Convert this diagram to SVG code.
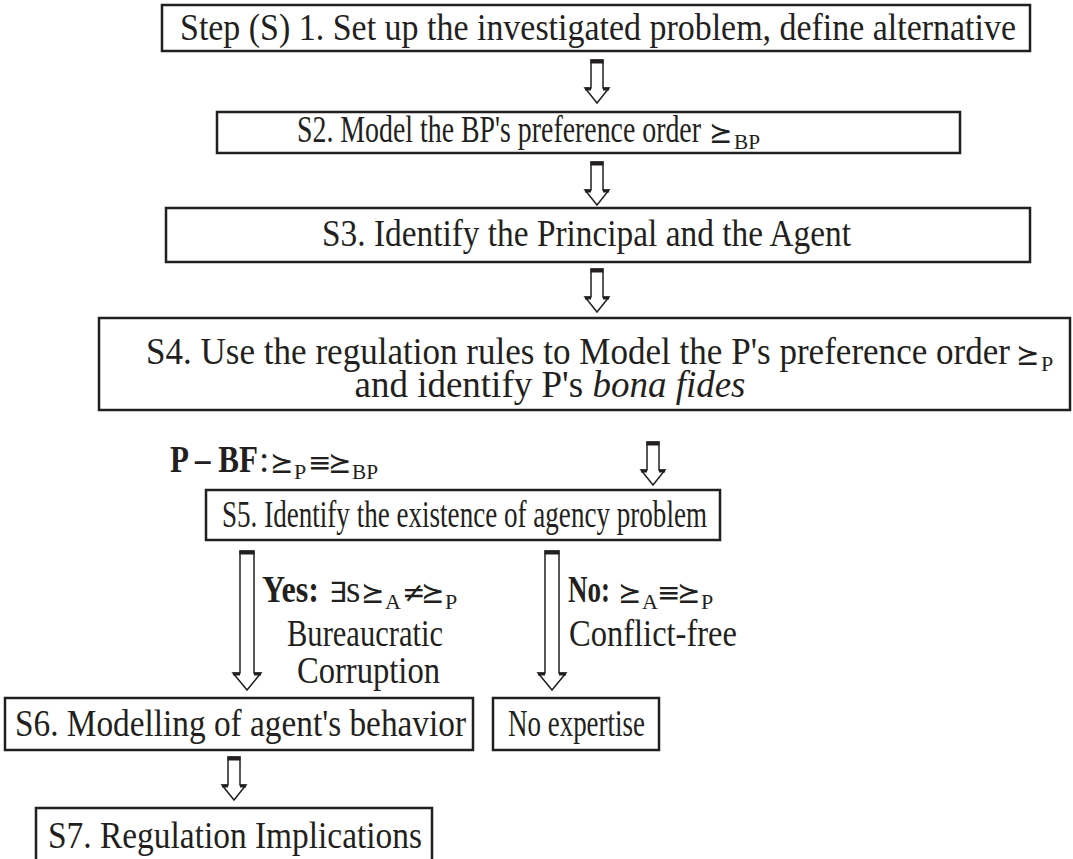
<svg xmlns="http://www.w3.org/2000/svg" width="1073" height="859" viewBox="0 0 1073 859">
<style>
.box{fill:#fff;stroke:#231f20;stroke-width:2.5}
.t{font-family:"Liberation Serif","Times New Roman",serif;font-size:37px;fill:#231f20}
.b{font-weight:bold}
.i{font-style:italic}
.sym{font-family:"DejaVu Sans",sans-serif;font-size:28px}
.sub{font-size:22px}
.arr{fill:#fff;stroke:#231f20;stroke-width:1.5;stroke-linejoin:miter}
.cap{stroke:#231f20;stroke-width:4}
.sh{stroke:#231f20;stroke-width:3}
</style>
<defs>
<g id="sarrow">
<path class="arr" d="M-6,0 H6 V28 H12 L0,43 L-12,28 H-6 Z"/>
<line class="cap" x1="-6.5" y1="1.5" x2="6.5" y2="1.5"/>
<line class="sh" x1="-12" y1="29" x2="-6" y2="29"/>
<line class="sh" x1="6" y1="29" x2="12" y2="29"/>
</g>
<g id="larrow">
<path class="arr" d="M-7,0 H7 V122 H14 L0,139 L-14,122 H-7 Z"/>
<line class="cap" x1="-7.5" y1="1.5" x2="7.5" y2="1.5"/>
<line class="sh" x1="-14" y1="123" x2="-7" y2="123"/>
<line class="sh" x1="7" y1="123" x2="14" y2="123"/>
</g>
</defs>

<g id="connectors">
<use href="#sarrow" x="597" y="60"/>
<use href="#sarrow" x="597" y="162"/>
<use href="#sarrow" x="597" y="269"/>
<use href="#sarrow" x="653" y="442"/>
<use href="#larrow" x="247" y="551"/>
<use href="#larrow" x="552" y="551"/>
<use href="#sarrow" x="234" y="757"/>
</g>

<g id="s1">
<rect class="box" x="162" y="5" width="868" height="46"/>
<text class="t" x="180" y="40" textLength="836" lengthAdjust="spacingAndGlyphs">Step (S) 1. Set up the investigated problem, define alternative</text>
</g>

<g id="s2">
<rect class="box" x="217" y="112" width="743" height="41"/>
<text class="t" x="297" y="142" textLength="404" lengthAdjust="spacingAndGlyphs">S2. Model the BP's preference order</text>
<text class="t sym" x="709" y="142">⪰</text>
<text class="t sub" x="734" y="149" textLength="26" lengthAdjust="spacingAndGlyphs">BP</text>
</g>

<g id="s3">
<rect class="box" x="166" y="208" width="864" height="54"/>
<text class="t" x="322" y="246" textLength="529" lengthAdjust="spacingAndGlyphs">S3. Identify the Principal and the Agent</text>
</g>

<g id="s4">
<rect class="box" x="99" y="318" width="971" height="92"/>
<text class="t" x="146" y="364" textLength="864" lengthAdjust="spacingAndGlyphs">S4. Use the regulation rules to Model the P's preference order</text>
<text class="t sym" x="1016" y="364">⪰</text>
<text class="t sub" x="1041" y="371">P</text>
<text class="t" x="550" y="397" text-anchor="middle"><tspan>and identify P's </tspan><tspan class="i">bona fides</tspan></text>
</g>

<g id="pbf">
<text class="t b" x="170" y="472" textLength="88" lengthAdjust="spacingAndGlyphs">P – BF</text>
<text class="t" x="259" y="472">:</text>
<text class="t sym" x="270" y="472">⪰</text>
<text class="t sub" x="294" y="479">P</text>
<text class="t sym" x="308" y="472">≡</text>
<text class="t sym" x="328" y="472">⪰</text>
<text class="t sub" x="352" y="479" textLength="26" lengthAdjust="spacingAndGlyphs">BP</text>
</g>

<g id="s5">
<rect class="box" x="206" y="490" width="514" height="50"/>
<text class="t" x="222" y="527" textLength="485" lengthAdjust="spacingAndGlyphs">S5. Identify the existence of agency problem</text>
</g>

<g id="yes-label">
<text class="t b" x="262" y="602" textLength="57" lengthAdjust="spacingAndGlyphs">Yes:</text>
<text class="t sym" x="329" y="602">∃</text>
<text class="t" x="346" y="602">s</text>
<text class="t sym" x="361" y="602">⪰</text>
<text class="t sub" x="385" y="609">A</text>
<text class="t sym" x="402" y="602">≠</text>
<text class="t sym" x="421" y="602">⪰</text>
<text class="t sub" x="445" y="609">P</text>
<text class="t" x="287" y="646" textLength="156" lengthAdjust="spacingAndGlyphs">Bureaucratic</text>
<text class="t" x="297" y="683" textLength="143" lengthAdjust="spacingAndGlyphs">Corruption</text>
</g>

<g id="no-label">
<text class="t b" x="568" y="602" textLength="42" lengthAdjust="spacingAndGlyphs">No:</text>
<text class="t sym" x="618" y="602">⪰</text>
<text class="t sub" x="642" y="609">A</text>
<text class="t sym" x="657" y="602">≡</text>
<text class="t sym" x="677" y="602">⪰</text>
<text class="t sub" x="701" y="609">P</text>
<text class="t" x="569" y="646" textLength="168" lengthAdjust="spacingAndGlyphs">Conflict-free</text>
</g>

<g id="s6">
<rect class="box" x="5" y="698" width="468" height="52"/>
<text class="t" x="15" y="736" textLength="451" lengthAdjust="spacingAndGlyphs">S6. Modelling of agent's behavior</text>
</g>

<g id="noexp">
<rect class="box" x="493" y="698" width="166" height="52"/>
<text class="t" x="508" y="736" textLength="137" lengthAdjust="spacingAndGlyphs">No expertise</text>
</g>

<g id="s7">
<rect class="box" x="36" y="808" width="396" height="60"/>
<text class="t" x="48" y="848" textLength="374" lengthAdjust="spacingAndGlyphs">S7. Regulation Implications</text>
</g>
</svg>
